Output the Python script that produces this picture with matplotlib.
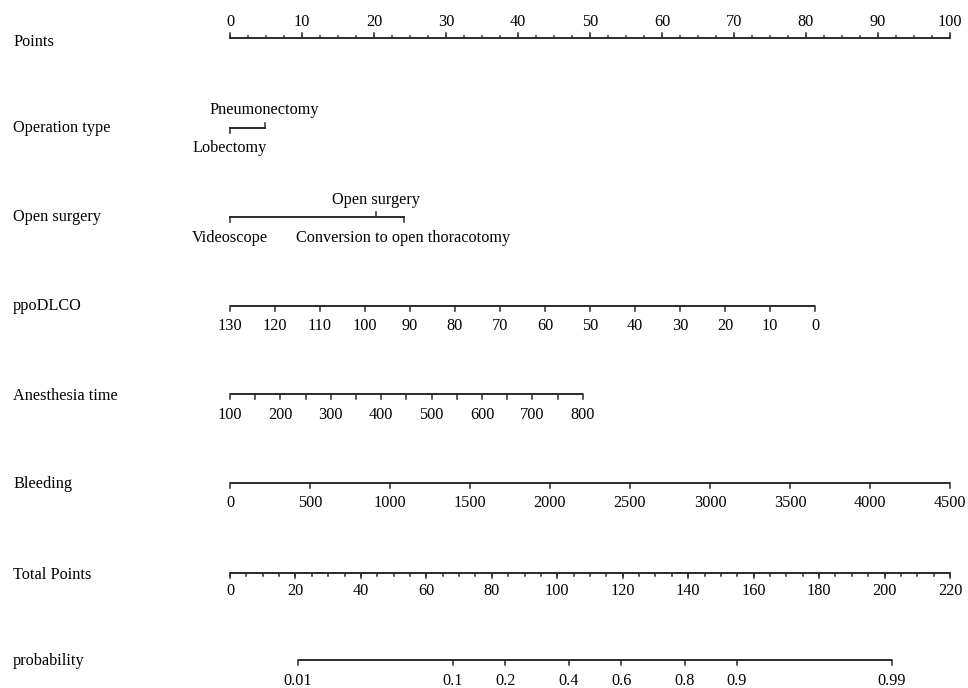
import numpy as np
import matplotlib
matplotlib.use('Agg')
import matplotlib.pyplot as plt

plt.rcParams['font.family'] = ['Liberation Serif', 'DejaVu Serif']

# nomogram scales: every value is converted to "points" (0-100)
points_ticks = list(range(0, 101, 10))
points_minor = list(np.arange(0, 100.1, 2.5))

op_levels = ['Lobectomy', 'Pneumonectomy']
op_points = [0, 4.8]

open_levels = ['Videoscope', 'Open surgery', 'Conversion to open thoracotomy']
open_points = [0, 20.3, 24.1]

ppodlco_ticks = list(range(130, -1, -10))
ppodlco_max = 130
ppodlco_pts_at_zero = 81.25

anes_ticks = list(range(100, 801, 50))
anes_labels = list(range(100, 801, 100))
anes_min, anes_max = 100, 800
anes_pts_at_max = 49.0

bleed_ticks = list(range(0, 4501, 500))
bleed_max = 4500

total_ticks = list(range(0, 221, 20))
total_minor = list(range(0, 221, 5))
total_max = 220

prob_ticks = [0.01, 0.1, 0.2, 0.4, 0.6, 0.8, 0.9, 0.99]
prob_labels = ['0.01', '0.1', '0.2', '0.4', '0.6', '0.8', '0.9', '0.99']
lp_intercept = -5.648
lp_slope = 0.05064

row_names = ['Points', 'Operation type', 'Open surgery', 'ppoDLCO',
             'Anesthesia time', 'Bleeding', 'Total Points', 'probability']

# vertical layout (pixel rows, top = 0)
row_y = [38, 128, 217, 306, 394, 483, 573, 660]
name_y = [42, 128, 217, 306, 396, 484, 575, 661]

W, H = 968, 688
x0_px, px_per_pt = 230, 7.2

LINE = '#2b2b2b'
TXT = '#000000'
FS = 11.7
MAJ, MIN = 5, 2.5

fig = plt.figure(figsize=(W / 100, H / 100), dpi=100)
ax = fig.add_axes([0, 0, 1, 1])
ax.set_xlim(-x0_px / px_per_pt, (W - x0_px) / px_per_pt)
ax.set_ylim(H, 0)
ax.axis('off')


def label(x, y, s, ha='center'):
    ax.text(x, y, s, ha=ha, va='center', fontsize=FS, color=TXT)


def draw_scale(y, major, labels=None, minor=(), up=False, lab_off=20):
    sgn = -1 if up else 1
    allpos = list(major) + list(minor)
    ax.plot([min(allpos), max(allpos)], [y, y], color=LINE, lw=1.4,
            solid_capstyle='butt')
    for m in minor:
        ax.plot([m, m], [y, y + sgn * MIN], color=LINE, lw=1.1)
    for m in major:
        ax.plot([m, m], [y, y + sgn * MAJ], color=LINE, lw=1.1)
    if labels is not None:
        for m, t in zip(major, labels):
            label(m, y + sgn * lab_off, t)


# row names
for name, y in zip(row_names, name_y):
    label(13 / px_per_pt - x0_px / px_per_pt, y, name, ha='left')

# Points
draw_scale(row_y[0], points_ticks, [str(v) for v in points_ticks],
           minor=points_minor, up=True, lab_off=16)

# Operation type
y = row_y[1]
ax.plot([op_points[0], op_points[1]], [y, y], color=LINE, lw=1.4)
ax.plot([op_points[0]] * 2, [y, y + MAJ], color=LINE, lw=1.1)
ax.plot([op_points[1]] * 2, [y, y - MAJ], color=LINE, lw=1.1)
label(op_points[1], y - 18, op_levels[1])
label(op_points[0], y + 20, op_levels[0])

# Open surgery
y = row_y[2]
ax.plot([min(open_points), max(open_points)], [y, y], color=LINE, lw=1.4)
for p, lev, up in zip(open_points, open_levels, [False, True, False]):
    s = -1 if up else 1
    ax.plot([p, p], [y, y + s * MAJ], color=LINE, lw=1.1)
    label(p, y + (-17 if up else 21), lev)

# ppoDLCO (higher value -> fewer points)
pp = [(ppodlco_max - v) * ppodlco_pts_at_zero / ppodlco_max for v in ppodlco_ticks]
draw_scale(row_y[3], pp, [str(v) for v in ppodlco_ticks])

# Anesthesia time: ticks every 50, labels every 100
an = [(v - anes_min) * anes_pts_at_max / (anes_max - anes_min) for v in anes_ticks]
an_lab = [(v - anes_min) * anes_pts_at_max / (anes_max - anes_min) for v in anes_labels]
draw_scale(row_y[4], an)
for p, v in zip(an_lab, anes_labels):
    label(p, row_y[4] + 21, str(v))

# Bleeding
bl = [v * 100 / bleed_max for v in bleed_ticks]
draw_scale(row_y[5], bl, [str(v) for v in bleed_ticks])

# Total Points
tp = [v * 100 / total_max for v in total_ticks]
tpm = [v * 100 / total_max for v in total_minor]
draw_scale(row_y[6], tp, [str(v) for v in total_ticks], minor=tpm, lab_off=18)

# probability: logit(p) = lp_intercept + lp_slope * total points
pr = [(np.log(p / (1 - p)) - lp_intercept) / lp_slope * 100 / total_max for p in prob_ticks]
draw_scale(row_y[7], pr, prob_labels, lab_off=21)

fig.savefig('out.png', dpi=100, facecolor='white')
